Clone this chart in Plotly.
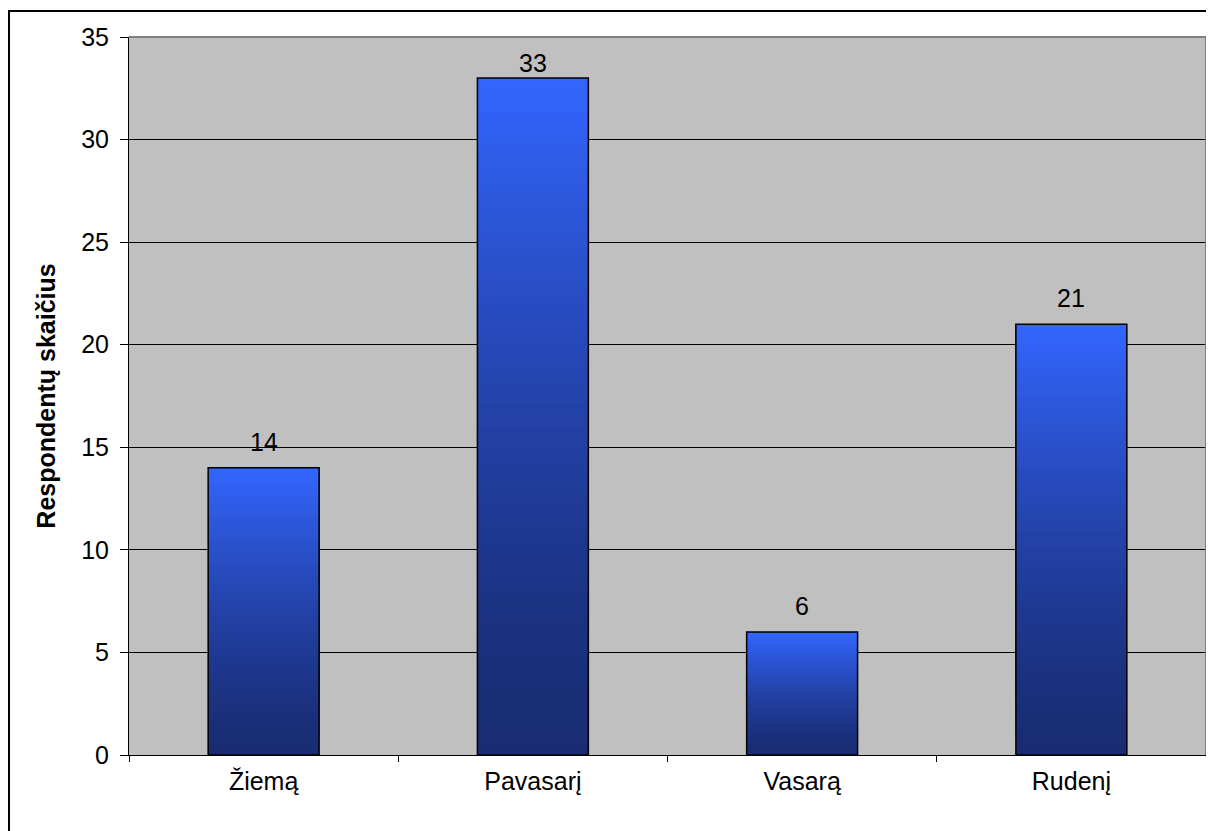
import plotly.graph_objects as go

categories = ["Žiemą", "Pavasarį", "Vasarą", "Rudenį"]
values = [14, 33, 6, 21]
y_ticks = [0, 5, 10, 15, 20, 25, 30, 35]
y_title = "Respondentų skaičius"

TOP = (51, 102, 255)
BOTTOM = (25, 44, 115)
N = 60
FONT = "Liberation Sans, Arial, sans-serif"
FS = 25
Y_MAX = 35
PLOT_H = 718  # plot area height in px

fig = go.Figure()

# gradient: each layer covers from its base up to the bar top, later layers on top
for k in range(N):
    t = (k + 0.5) / N  # fraction from bottom
    f = t ** 1.4
    col = tuple(int(round(BOTTOM[i] + (TOP[i] - BOTTOM[i]) * f)) for i in range(3))
    fig.add_trace(go.Bar(
        x=categories,
        y=[v * (N - k) / N for v in values],
        base=[v * k / N for v in values],
        marker=dict(color="rgb(%d,%d,%d)" % col, line=dict(width=0)),
        showlegend=False, hoverinfo="skip",
    ))

# outline
fig.add_trace(go.Bar(
    x=categories, y=values,
    marker=dict(color="rgba(0,0,0,0)", line=dict(color="black", width=1.5)),
    showlegend=False,
))

# value labels (kept inside the plot area like the original)
for c, v in zip(categories, values):
    room = (Y_MAX - v) * PLOT_H / Y_MAX  # px between bar top and plot top
    shift = min(26, room - 26)
    fig.add_annotation(x=c, y=v, text=str(v), showarrow=False, yanchor="middle",
                       yshift=shift, font=dict(family=FONT, size=FS, color="black"))

fig.update_layout(
    width=1206, height=823,
    barmode="overlay", bargap=0.588,
    paper_bgcolor="white", plot_bgcolor="#C0C0C0",
    margin=dict(l=121, r=8, t=29, b=76),
    font=dict(family=FONT, size=FS, color="black"),
    xaxis=dict(
        type="category", tickson="boundaries", ticks="outside", ticklen=6,
        tickcolor="black", tickwidth=1, showline=True, linecolor="black", linewidth=1,
        showgrid=False, tickfont=dict(family=FONT, size=FS, color="black"),
        ticklabelstandoff=4,
    ),
    yaxis=dict(
        range=[0, Y_MAX], tickvals=y_ticks, ticks="outside", ticklen=8, tickcolor="black",
        tickwidth=1, showline=True, linecolor="black", linewidth=1,
        showgrid=True, gridcolor="black", gridwidth=1, zeroline=False,
        tickfont=dict(family=FONT, size=FS, color="black"),
        ticklabelstandoff=6,
        title=dict(text="<b>" + y_title + "</b>", font=dict(family=FONT, size=25, color="black"), standoff=18),
    ),
    shapes=[
        dict(type="line", xref="paper", yref="paper", x0=0, x1=1, y0=1, y1=1,
             line=dict(color="#808080", width=2)),
        dict(type="line", xref="paper", yref="paper", x0=1, x1=1, y0=0, y1=1,
             line=dict(color="#808080", width=2)),
        dict(type="rect", xref="paper", yref="paper",
             x0=-0.1114, x1=1.0093, y0=-0.1086, y1=1.0362,
             line=dict(color="black", width=2), fillcolor="rgba(0,0,0,0)"),
    ],
)

fig.write_html("out.html")
